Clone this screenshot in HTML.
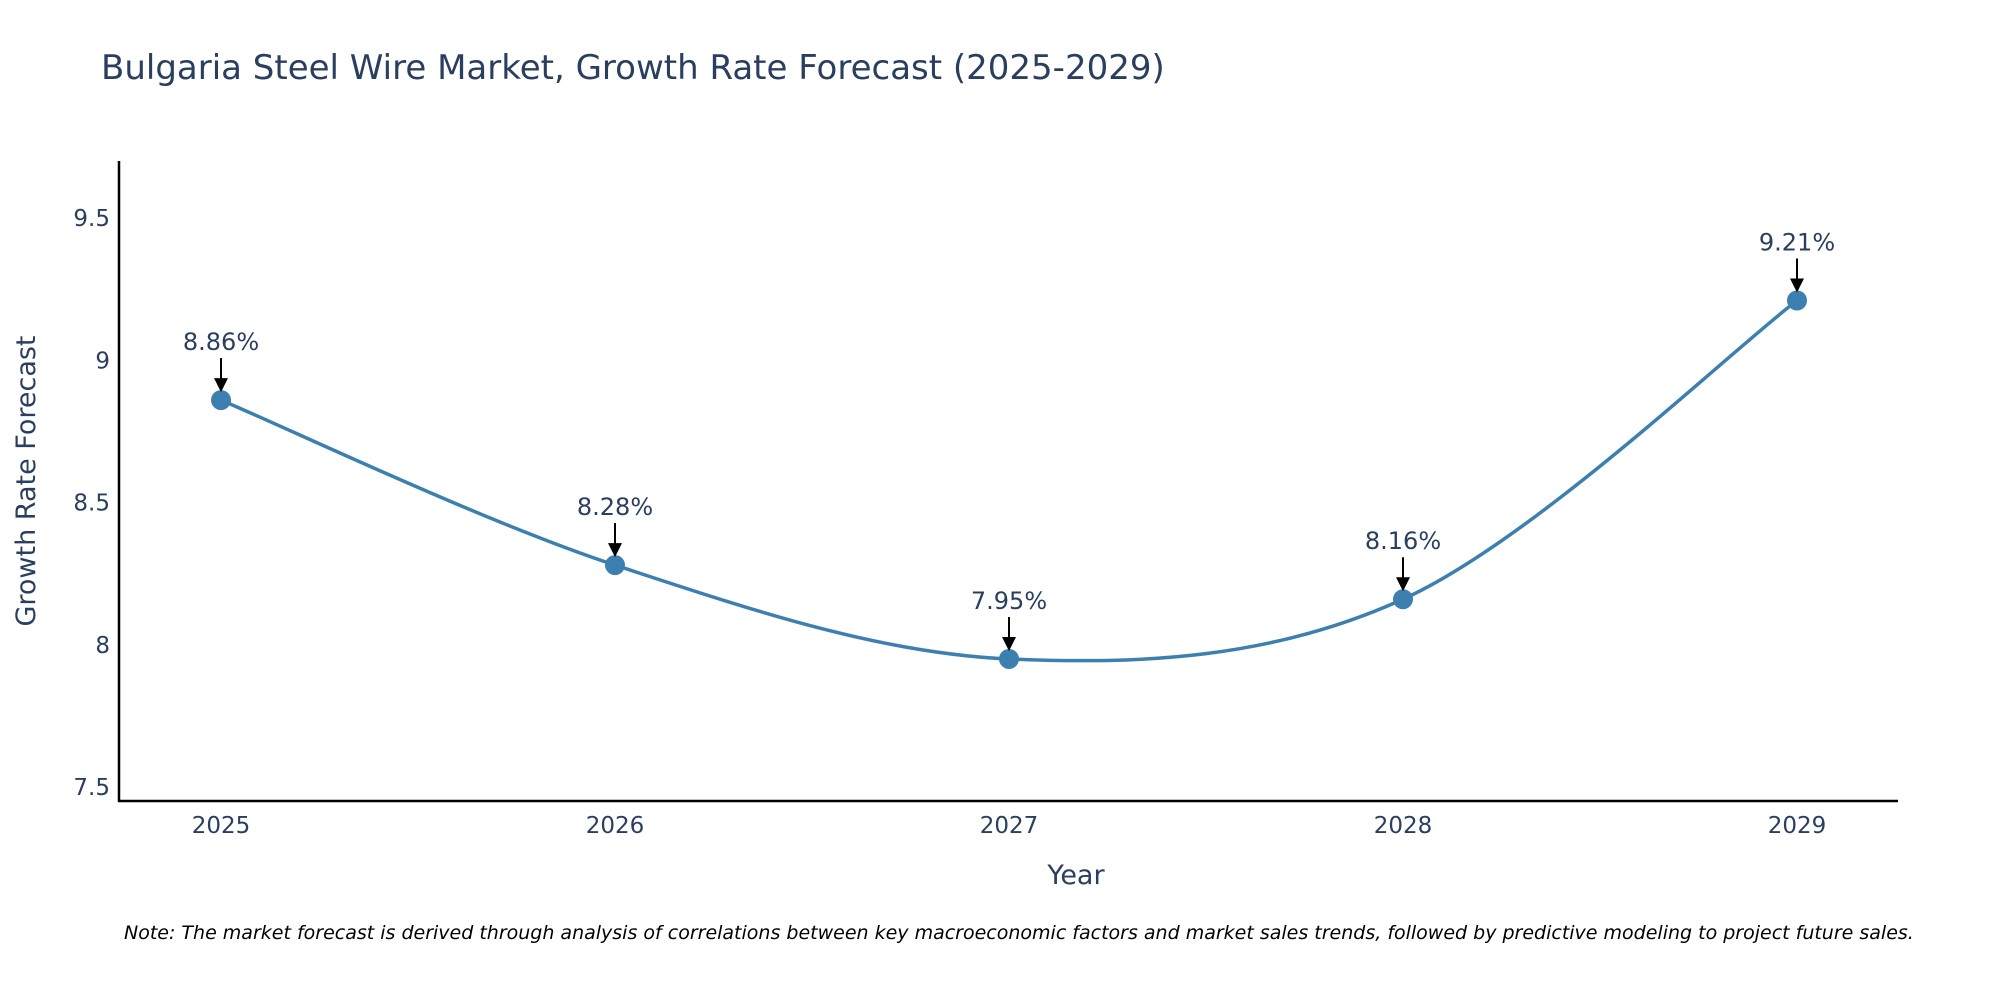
<!DOCTYPE html>
<html><head><meta charset="utf-8"><style>
html,body{margin:0;padding:0;background:#fff;overflow:hidden;}
svg{display:block;font-family:"DejaVu Sans","Liberation Sans",sans-serif;}
</style></head><body>
<svg id="chart" width="2000" height="1000" viewBox="0 0 2000 1000">
<text x="101" y="79" font-size="34" fill="#2a3f5f">Bulgaria Steel Wire Market, Growth Rate Forecast (2025-2029)</text>
<g id="yticks"></g>
<g id="xticks"></g>
<line x1="119" y1="161" x2="119" y2="802" stroke="#000" stroke-width="2.5"/>
<line x1="118" y1="801" x2="1898" y2="801" stroke="#000" stroke-width="2.5"/>
<path id="line" fill="none" stroke="#3d80b0" stroke-width="3.5"/>
<g id="points"></g>
<g id="annots"></g>
<text x="1076" y="884" font-size="27" fill="#2a3f5f" text-anchor="middle">Year</text>
<text transform="translate(35,481) rotate(-90)" font-size="27" fill="#2a3f5f" text-anchor="middle">Growth Rate Forecast</text>
<text x="124" y="939" font-size="19" font-style="italic" fill="#000">Note: The market forecast is derived through analysis of correlations between key macroeconomic factors and market sales trends, followed by predictive modeling to project future sales.</text>
</svg>
<script>
const years = [2025, 2026, 2027, 2028, 2029];
const values = [8.86, 8.28, 7.95, 8.16, 9.21];
const yTickValues = [7.5, 8, 8.5, 9, 9.5];
const yTickLabels = ["7.5", "8", "8.5", "9", "9.5"];
const NS = "http://www.w3.org/2000/svg";
function xs(y){ return 221 + (y - 2025) * 394; }
function ys(v){ return 787 - (v - 7.5) * 284.5; }
function mk(tag, attrs, parent, txt){
  const e = document.createElementNS(NS, tag);
  for (const k in attrs) e.setAttribute(k, attrs[k]);
  if (txt !== undefined) e.textContent = txt;
  parent.appendChild(e); return e;
}
const yt = document.getElementById('yticks');
yTickValues.forEach((v, i) => {
  const t = mk('text', {x: 110, y: ys(v) + 8, 'font-size': 23, fill: '#2a3f5f', 'text-anchor': 'end'}, yt, yTickLabels[i]);
  
  
});
const xt = document.getElementById('xticks');
years.forEach(y => {
  const t = mk('text', {x: xs(y), y: 833, 'font-size': 23, fill: '#2a3f5f', 'text-anchor': 'middle'}, xt, String(y));
  
  
});
const pts = years.map((y, i) => [xs(y), ys(values[i])]);
let d = 'M' + pts[0][0] + ',' + pts[0][1];
const s = 1/6;
for (let i = 0; i < pts.length - 1; i++) {
  const p0 = pts[Math.max(0, i-1)], p1 = pts[i], p2 = pts[i+1], p3 = pts[Math.min(pts.length-1, i+2)];
  const c1 = [p1[0] + (p2[0]-p0[0])*s, p1[1] + (p2[1]-p0[1])*s];
  const c2 = [p2[0] - (p3[0]-p1[0])*s, p2[1] - (p3[1]-p1[1])*s];
  d += ' C' + c1 + ' ' + c2 + ' ' + p2;
}
document.getElementById('line').setAttribute('d', d);
const pg = document.getElementById('points');
const ag = document.getElementById('annots');
pts.forEach((p, i) => {
  const c = mk('circle', {cx: p[0], cy: p[1], r: 10, fill: '#3d80b0'}, pg);
  
  
  const l = mk('line', {x1: p[0], y1: p[1] - 42, x2: p[0], y2: p[1] - 20, stroke: '#000', 'stroke-width': 2}, ag);
  
  
  const h = mk('polygon', {points: (p[0]-7)+','+(p[1]-22)+' '+(p[0]+7)+','+(p[1]-22)+' '+p[0]+','+(p[1]-8), fill: '#000'}, ag);
  
  
  const t = mk('text', {x: p[0], y: p[1] - 50, 'font-size': 24, fill: '#2a3f5f', 'text-anchor': 'middle'}, ag, values[i].toFixed(2) + '%');
  
  
});
</script>
</body></html>
